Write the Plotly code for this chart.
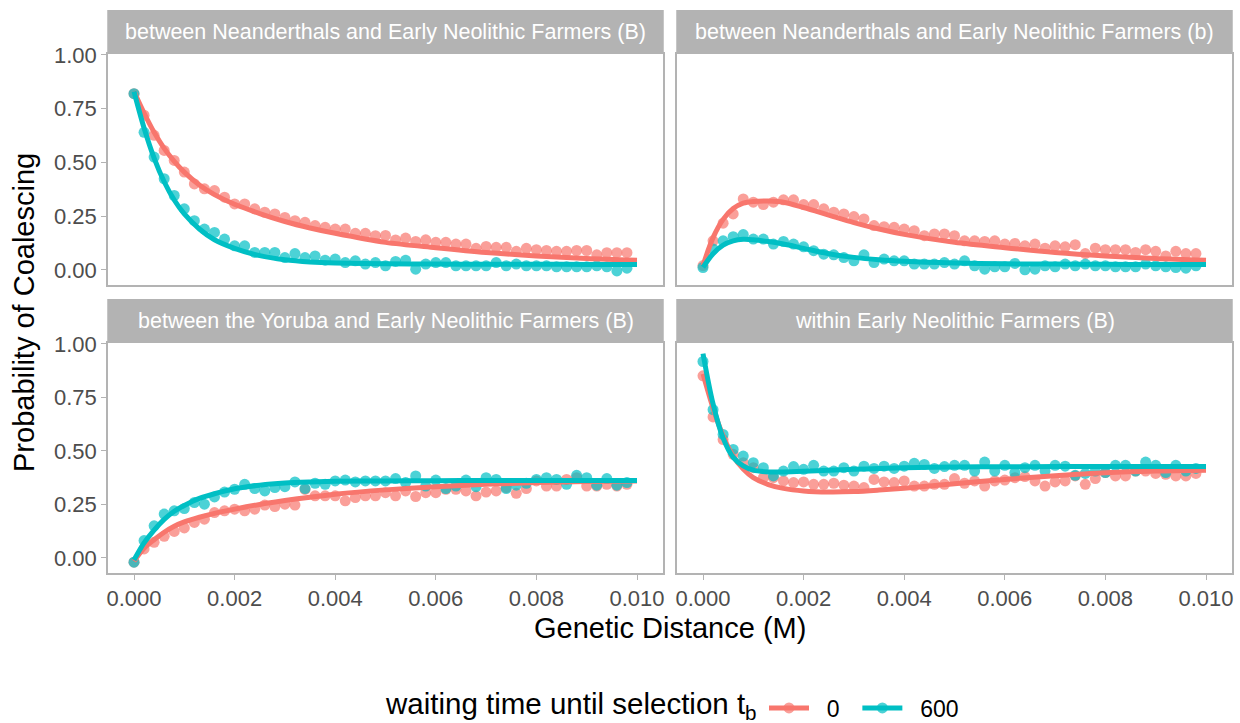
import plotly.graph_objects as go

# ---------------- data ----------------
panel_titles = [
    "between Neanderthals and Early Neolithic Farmers (B)",
    "between Neanderthals and Early Neolithic Farmers (b)",
    "between the Yoruba and Early Neolithic Farmers (B)",
    "within Early Neolithic Farmers (B)",
]
groups = ["0", "600"]

x_pts = [0.0, 0.0002, 0.0004, 0.0006, 0.0008, 0.001, 0.0012, 0.0014, 0.0016, 0.0018,
         0.002, 0.0022, 0.0024, 0.0026, 0.0028, 0.003, 0.0032, 0.0034, 0.0036, 0.0038,
         0.004, 0.0042, 0.0044, 0.0046, 0.0048, 0.005, 0.0052, 0.0054, 0.0056, 0.0058,
         0.006, 0.0062, 0.0064, 0.0066, 0.0068, 0.007, 0.0072, 0.0074, 0.0076, 0.0078,
         0.008, 0.0082, 0.0084, 0.0086, 0.0088, 0.009, 0.0092, 0.0094, 0.0096, 0.0098]

x_line = [0.0, 0.0002, 0.0004, 0.0006, 0.0008, 0.001, 0.0013, 0.0016, 0.002, 0.0025,
          0.003, 0.0035, 0.004, 0.005, 0.006, 0.007, 0.008, 0.009, 0.01]

p1_pts_0 = [0.82, 0.72, 0.626, 0.556, 0.509, 0.455, 0.40, 0.377, 0.369, 0.338,
            0.307, 0.307, 0.284, 0.268, 0.26, 0.244, 0.229, 0.221, 0.206, 0.198,
            0.19, 0.19, 0.17, 0.17, 0.159, 0.16, 0.139, 0.148, 0.132, 0.14,
            0.128, 0.128, 0.12, 0.12, 0.10, 0.109, 0.105, 0.105, 0.086, 0.10,
            0.094, 0.09, 0.086, 0.086, 0.09, 0.09, 0.07, 0.08, 0.08, 0.08]
p1_pts_600 = [0.82, 0.64, 0.525, 0.424, 0.346, 0.284, 0.229, 0.19, 0.174, 0.143,
              0.112, 0.112, 0.081, 0.081, 0.081, 0.057, 0.076, 0.057, 0.065, 0.045,
              0.05, 0.034, 0.042, 0.027, 0.034, 0.019, 0.039, 0.045, 0.003, 0.027,
              0.034, 0.034, 0.019, 0.019, 0.019, 0.019, 0.034, 0.019, 0.027, 0.019,
              0.019, 0.019, 0.014, 0.014, 0.014, 0.014, 0.019, 0.014, -0.005, 0.008]
p2_pts_0 = [0.02, 0.135, 0.217, 0.26, 0.33, 0.315, 0.304, 0.315, 0.326, 0.326,
            0.304, 0.304, 0.284, 0.268, 0.26, 0.248, 0.237, 0.206, 0.201, 0.198,
            0.19, 0.182, 0.159, 0.167, 0.167, 0.159, 0.135, 0.135, 0.132, 0.135,
            0.12, 0.123, 0.112, 0.12, 0.101, 0.112, 0.107, 0.117, 0.076, 0.101,
            0.094, 0.094, 0.094, 0.081, 0.094, 0.086, 0.065, 0.086, 0.076, 0.076]
p2_pts_600 = [0.011, 0.097, 0.135, 0.154, 0.164, 0.143, 0.143, 0.12, 0.132, 0.12,
              0.107, 0.089, 0.073, 0.07, 0.057, 0.042, 0.07, 0.034, 0.05, 0.042,
              0.042, 0.027, 0.027, 0.027, 0.034, 0.027, 0.042, 0.019, 0.003, 0.014,
              0.014, 0.03, 0.0, 0.003, 0.019, 0.014, 0.027, 0.019, 0.027, 0.019,
              0.019, 0.014, 0.014, 0.014, 0.027, 0.019, 0.014, 0.011, 0.008, 0.019]
p3_pts_0 = [-0.02, 0.042, 0.073, 0.101, 0.124, 0.14, 0.166, 0.181, 0.212, 0.22,
            0.228, 0.22, 0.228, 0.247, 0.24, 0.251, 0.247, 0.32, 0.29, 0.29,
            0.29, 0.267, 0.282, 0.29, 0.29, 0.305, 0.29, 0.313, 0.287, 0.305,
            0.305, 0.321, 0.321, 0.313, 0.29, 0.308, 0.313, 0.329, 0.302, 0.324,
            0.36, 0.336, 0.336, 0.367, 0.375, 0.336, 0.336, 0.344, 0.336, 0.344]
p3_pts_600 = [-0.02, 0.081, 0.15, 0.205, 0.22, 0.231, 0.259, 0.251, 0.285, 0.308,
              0.321, 0.344, 0.324, 0.313, 0.329, 0.333, 0.355, 0.324, 0.349, 0.344,
              0.36, 0.364, 0.355, 0.36, 0.36, 0.36, 0.371, 0.352, 0.383, 0.336,
              0.364, 0.324, 0.336, 0.364, 0.333, 0.375, 0.367, 0.324, 0.34, 0.349,
              0.367, 0.375, 0.367, 0.344, 0.386, 0.375, 0.34, 0.371, 0.34, 0.352]
p4_pts_0 = [0.851, 0.659, 0.553, 0.484, 0.445, 0.422, 0.375, 0.375, 0.36, 0.352,
            0.355, 0.344, 0.344, 0.349, 0.34, 0.336, 0.329, 0.367, 0.355, 0.352,
            0.36, 0.336, 0.336, 0.344, 0.344, 0.371, 0.349, 0.36, 0.336, 0.36,
            0.364, 0.375, 0.38, 0.36, 0.336, 0.355, 0.36, 0.383, 0.344, 0.371,
            0.399, 0.383, 0.383, 0.406, 0.406, 0.395, 0.391, 0.383, 0.383, 0.395]
p4_pts_600 = [0.918, 0.693, 0.577, 0.507, 0.476, 0.445, 0.422, 0.383, 0.406, 0.427,
              0.414, 0.433, 0.406, 0.406, 0.422, 0.406, 0.429, 0.418, 0.429, 0.418,
              0.429, 0.442, 0.437, 0.418, 0.427, 0.433, 0.433, 0.406, 0.448, 0.406,
              0.433, 0.399, 0.422, 0.433, 0.406, 0.433, 0.429, 0.386, 0.395, 0.406,
              0.399, 0.433, 0.433, 0.406, 0.448, 0.433, 0.399, 0.433, 0.406, 0.418]

p1_line_0 = [0.83, 0.73, 0.64, 0.565, 0.505, 0.455, 0.395, 0.35, 0.305, 0.262,
             0.225, 0.195, 0.17, 0.128, 0.103, 0.081, 0.065, 0.053, 0.045]
p1_line_600 = [0.83, 0.66, 0.52, 0.41, 0.325, 0.26, 0.19, 0.14, 0.10, 0.066,
               0.047, 0.037, 0.032, 0.028, 0.027, 0.026, 0.026, 0.025, 0.025]
p2_line_0 = [0.02, 0.15, 0.235, 0.285, 0.31, 0.318, 0.32, 0.315, 0.29, 0.255,
             0.22, 0.19, 0.165, 0.128, 0.103, 0.081, 0.065, 0.053, 0.045]
p2_line_600 = [0.012, 0.075, 0.115, 0.135, 0.142, 0.14, 0.132, 0.12, 0.10, 0.075,
               0.058, 0.047, 0.04, 0.032, 0.028, 0.027, 0.026, 0.025, 0.025]
p3_line_0 = [-0.015, 0.045, 0.085, 0.12, 0.148, 0.168, 0.19, 0.208, 0.228, 0.25,
             0.268, 0.284, 0.298, 0.318, 0.333, 0.344, 0.352, 0.357, 0.36]
p3_line_600 = [-0.01, 0.07, 0.13, 0.18, 0.218, 0.245, 0.278, 0.30, 0.323, 0.34,
               0.35, 0.355, 0.358, 0.36, 0.361, 0.362, 0.362, 0.362, 0.362]
p4_line_0 = [0.86, 0.70, 0.57, 0.475, 0.415, 0.375, 0.343, 0.325, 0.313, 0.308,
             0.31, 0.317, 0.326, 0.347, 0.367, 0.384, 0.398, 0.406, 0.41]
p4_line_600 = [0.955, 0.72, 0.56, 0.47, 0.43, 0.41, 0.402, 0.402, 0.405, 0.41,
               0.414, 0.418, 0.421, 0.425, 0.426, 0.427, 0.427, 0.427, 0.427]

x_ticks = [0.0, 0.002, 0.004, 0.006, 0.008, 0.01]
x_tick_labels = ["0.000", "0.002", "0.004", "0.006", "0.008", "0.010"]
y_ticks = [0.0, 0.25, 0.5, 0.75, 1.0]
y_tick_labels = ["0.00", "0.25", "0.50", "0.75", "1.00"]

points = [(p1_pts_0, p1_pts_600), (p2_pts_0, p2_pts_600),
          (p3_pts_0, p3_pts_600), (p4_pts_0, p4_pts_600)]
lines = [(p1_line_0, p1_line_600), (p2_line_0, p2_line_600),
         (p3_line_0, p3_line_600), (p4_line_0, p4_line_600)]

# ---------------- style / layout ----------------
W, H = 1240, 723
colors = ["#F8766D", "#00BFC4"]
colors_a = ["rgba(248,118,109,0.7)", "rgba(0,191,196,0.7)"]
FONT = "Liberation Sans, Arial, Helvetica, sans-serif"
GRAY = "#B3B3B3"
NB = "\u00a0"

col_px = [(108, 663), (677, 1232)]
row_px = [(54, 285), (343, 573)]
strip_px = [(10, 54), (299, 343)]

def fx(p):
    return p / W

def fy(p):
    return 1 - p / H

fig = go.Figure()
layout = dict(
    width=W, height=H, margin=dict(l=0, r=0, t=0, b=0, autoexpand=False),
    paper_bgcolor="white", plot_bgcolor="white",
    font=dict(family=FONT, color="black"),
    showlegend=True,
    shapes=[], annotations=[],
)

for i in range(4):
    r, c = divmod(i, 2)
    xa = "x" if i == 0 else f"x{i+1}"
    ya = "y" if i == 0 else f"y{i+1}"
    for g in range(2):
        fig.add_trace(go.Scatter(
            x=x_pts, y=points[i][g], mode="markers", xaxis=xa, yaxis=ya,
            marker=dict(size=11, color=colors_a[g], line=dict(width=0)),
            showlegend=False, hoverinfo="skip"))
    for g in range(2):
        fig.add_trace(go.Scatter(
            x=x_line, y=lines[i][g], mode="lines", xaxis=xa, yaxis=ya,
            line=dict(color=colors[g], width=5, shape="spline", smoothing=0.9),
            showlegend=False, hoverinfo="skip"))

    x0, x1 = col_px[c]
    y0, y1 = row_px[r]
    xkey = "xaxis" if i == 0 else f"xaxis{i+1}"
    ykey = "yaxis" if i == 0 else f"yaxis{i+1}"
    layout[xkey] = dict(
        domain=[fx(x0), fx(x1)], anchor=ya, range=[-0.000517, 0.010517],
        showgrid=False, zeroline=False, showline=True, mirror=True,
        linecolor=GRAY, linewidth=1.5,
        tickmode="array", tickvals=x_ticks, ticktext=x_tick_labels,
        ticks="outside" if r == 1 else "", ticklen=5, tickcolor=GRAY, tickwidth=1.2,
        showticklabels=(r == 1), automargin=False,
        tickfont=dict(size=22, color="#4D4D4D", family=FONT),
    )
    layout[ykey] = dict(
        domain=[fy(y1), fy(y0)], anchor=xa, range=[-0.0705, 1.0045],
        showgrid=False, zeroline=False, showline=True, mirror=True,
        linecolor=GRAY, linewidth=1.5,
        tickmode="array", tickvals=y_ticks, ticktext=y_tick_labels,
        ticks="outside" if c == 0 else "", ticklen=5, tickcolor=GRAY, tickwidth=1.2,
        showticklabels=(c == 0), automargin=False,
        tickfont=dict(size=22, color="#4D4D4D", family=FONT),
    )
    sy0, sy1 = strip_px[r]
    layout["shapes"].append(dict(
        type="rect", xref="paper", yref="paper",
        x0=fx(x0 - 0.75), x1=fx(x1 + 0.75), y0=fy(sy1), y1=fy(sy0),
        fillcolor=GRAY, line=dict(width=0), layer="below"))
    layout["annotations"].append(dict(
        text=panel_titles[i], xref="paper", yref="paper",
        x=fx((x0 + x1) / 2), y=fy((sy0 + sy1) / 2), xanchor="center", yanchor="middle",
        showarrow=False, font=dict(size=21.5, color="white", family=FONT)))

# axis titles
layout["annotations"].append(dict(
    text="Genetic Distance (M)", xref="paper", yref="paper",
    x=fx(670), y=fy(628), xanchor="center", yanchor="middle", showarrow=False,
    font=dict(size=29, color="black", family=FONT)))
layout["annotations"].append(dict(
    text="Probability of Coalescing", xref="paper", yref="paper",
    x=fx(24), y=fy(313), xanchor="center", yanchor="middle", showarrow=False,
    textangle=-90, font=dict(size=29, color="black", family=FONT)))

# legend title drawn as annotation
layout["annotations"].append(dict(
    text="waiting time until selection t<sub>b</sub>", xref="paper", yref="paper",
    x=fx(759), y=fy(705), xanchor="right", yanchor="middle", showarrow=False,
    font=dict(size=29.5, color="black", family=FONT)))

# legend entries
legend_names = [NB + NB + groups[0] + NB + NB, NB + NB + groups[1]]
for g in range(2):
    fig.add_trace(go.Scatter(
        x=[None], y=[None], mode="lines+markers", name=legend_names[g],
        line=dict(color=colors[g], width=5),
        marker=dict(size=11, color=colors_a[g]), showlegend=True))

layout["legend"] = dict(
    orientation="h", x=fx(764), xanchor="left", y=fy(708), yanchor="middle",
    font=dict(size=23, color="black", family=FONT),
    bgcolor="rgba(0,0,0,0)", itemwidth=40,
)

fig.update_layout(**layout)
fig.write_html("out.html")
